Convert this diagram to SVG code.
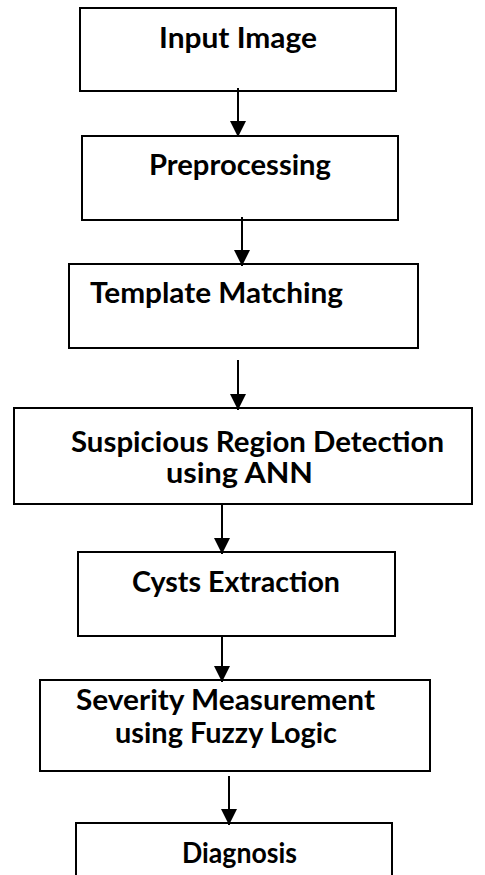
<svg xmlns="http://www.w3.org/2000/svg" width="485" height="875" viewBox="0 0 485 875">
  <style>
    .box { fill: #ffffff; stroke: #000000; stroke-width: 2; }
    .lbl { font-family: Lato, "Liberation Sans", sans-serif; font-weight: bold; font-size: 28.5px; fill: #000000; }
    .conn { stroke: #000000; stroke-width: 2; fill: none; }
  </style>
  <defs>
    <marker id="head" viewBox="0 0 16 16" refX="16" refY="8" markerWidth="16" markerHeight="16" markerUnits="userSpaceOnUse" orient="auto">
      <path d="M0,0 L16,8 L0,16 Z" fill="#000000"/>
    </marker>
  </defs>
  <rect width="485" height="875" fill="#ffffff"/>

  <g id="input-image">
    <rect class="box" x="80" y="8" width="316" height="83"/>
    <text class="lbl" x="159" y="48" textLength="158" lengthAdjust="spacingAndGlyphs">Input Image</text>
  </g>
  <g id="preprocessing">
    <rect class="box" x="82" y="136" width="316" height="84"/>
    <text class="lbl" x="149" y="175" textLength="182" lengthAdjust="spacingAndGlyphs">Preprocessing</text>
  </g>
  <g id="template-matching">
    <rect class="box" x="69" y="264" width="349" height="84"/>
    <text class="lbl" x="90" y="303" textLength="253" lengthAdjust="spacingAndGlyphs">Template Matching</text>
  </g>
  <g id="suspicious-region-detection">
    <rect class="box" x="14" y="408" width="458" height="96"/>
    <text class="lbl" x="71" y="452" textLength="373" lengthAdjust="spacingAndGlyphs">Suspicious Region Detection</text>
    <text class="lbl" x="166" y="483" textLength="147" lengthAdjust="spacingAndGlyphs">using ANN</text>
  </g>
  <g id="cysts-extraction">
    <rect class="box" x="78" y="552" width="317" height="84"/>
    <text class="lbl" x="132" y="592" textLength="208" lengthAdjust="spacingAndGlyphs">Cysts Extraction</text>
  </g>
  <g id="severity-measurement">
    <rect class="box" x="40" y="680" width="390" height="91"/>
    <text class="lbl" x="76" y="710" textLength="299" lengthAdjust="spacingAndGlyphs">Severity Measurement</text>
    <text class="lbl" x="115" y="743" textLength="222" lengthAdjust="spacingAndGlyphs">using Fuzzy Logic</text>
  </g>
  <g id="diagnosis">
    <rect class="box" x="76" y="823" width="316" height="80"/>
    <text class="lbl" x="182" y="863" textLength="115" lengthAdjust="spacingAndGlyphs">Diagnosis</text>
  </g>

  <g id="connectors">
    <line class="conn" x1="238" y1="88" x2="238" y2="137" marker-end="url(#head)"/>
    <line class="conn" x1="242" y1="217" x2="242" y2="266" marker-end="url(#head)"/>
    <line class="conn" x1="238" y1="360" x2="238" y2="410" marker-end="url(#head)"/>
    <line class="conn" x1="222" y1="504" x2="222" y2="554" marker-end="url(#head)"/>
    <line class="conn" x1="222" y1="636" x2="222" y2="682" marker-end="url(#head)"/>
    <line class="conn" x1="229" y1="776" x2="229" y2="825" marker-end="url(#head)"/>
  </g>
</svg>
